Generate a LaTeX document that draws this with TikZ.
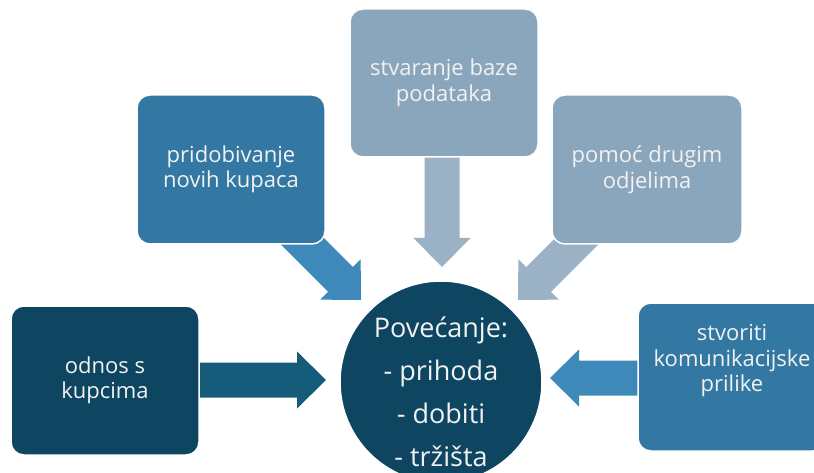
\documentclass[tikz,border=0pt]{standalone}
\usepackage{fontspec}
\setmainfont{Open Sans}
\usetikzlibrary{calc}
\definecolor{cdark}{HTML}{0E4560}
\definecolor{cdarkarrow}{HTML}{155B7A}
\definecolor{cmid}{HTML}{3278A3}
\definecolor{cmidarrow}{HTML}{3E89BA}
\definecolor{clight}{HTML}{8AA6BD}
\definecolor{clightarrow}{HTML}{9BB1C6}
\definecolor{ctext}{HTML}{F2F2F2}
% block arrow: start coordinate, tip coordinate, colour
\newcommand{\blockarrow}[3]{%
  \coordinate (#1h) at ($(#2)!29pt!(#1)$);
  \fill[#3] ($(#1)!17.5pt!90:(#2)$) -- ($(#1h)!17.5pt!90:(#2)$)
    -- ($(#1h)!28.5pt!90:(#2)$) -- (#2) -- ($(#1h)!28.5pt!-90:(#2)$)
    -- ($(#1h)!17.5pt!-90:(#2)$) -- ($(#1)!17.5pt!-90:(#2)$) -- cycle;
}
\tikzset{
  box/.style={rounded corners=13pt, draw=white, line width=1.5pt,
    minimum width=188pt, minimum height=149pt, text=ctext, align=center,
    font=\fontsize{22}{25.5}\selectfont, inner sep=0pt},
  boxtext/.style={text=ctext, align=center, font=\fontsize{22}{25.5}\selectfont, inner sep=0pt},
  hub/.style={circle, fill=cdark, draw=white, line width=1.5pt, minimum size=202pt, inner sep=0pt},
  hubtext/.style={text=ctext, align=center, font=\fontsize{27}{43}\selectfont, inner sep=0pt}
}
\begin{document}
\begin{tikzpicture}[x=1pt,y=-1pt]
\useasboundingbox (0,0) rectangle (814,473);
\clip (0,0) rectangle (814,473);
\fill[white] (0,0) rectangle (814,473);
% arrow end points
\coordinate (aL0) at (190,380);
\coordinate (aL1) at (326,380);
\coordinate (aR0) at (650,378);
\coordinate (aR1) at (550,378);
\coordinate (aT0) at (442,140);
\coordinate (aT1) at (442,267);
\coordinate (aTL0) at (270,209);
\coordinate (aTL1) at (361,300);
\coordinate (aTR0) at (609,209);
\coordinate (aTR1) at (518,300);
\blockarrow{aL0}{aL1}{cdarkarrow}
\blockarrow{aR0}{aR1}{cmidarrow}
\blockarrow{aT0}{aT1}{clightarrow}
\blockarrow{aTL0}{aTL1}{cmidarrow}
\blockarrow{aTR0}{aTR1}{clightarrow}
% boxes
\node[box, fill=cdark] (odnos) at (105,380.5) {odnos s\\kupcima};
\node[box, fill=cmid] (pridob) at (231,169.5) {pridobivanje\\novih kupaca};
\node[box, fill=clight, minimum height=148pt] (stvar) at (444,83) {stvaranje baze\\podataka};
\node[box, fill=clight, minimum width=190pt] (pomoc) at (647,169.5) {pomoć drugim\\odjelima};
\node[box, fill=cmid, minimum height=148pt] (stvor) at (732,377) {};
\node[boxtext] (stvortxt) at (732,361) {stvoriti\\komunikacijske\\prilike};
% hub
\node[hub] (hubc) at (441,382) {};
\node[hubtext] (hubt) at (441,392) {Povećanje:\\- prihoda\\- dobiti\\- tržišta};
\end{tikzpicture}
\end{document}
